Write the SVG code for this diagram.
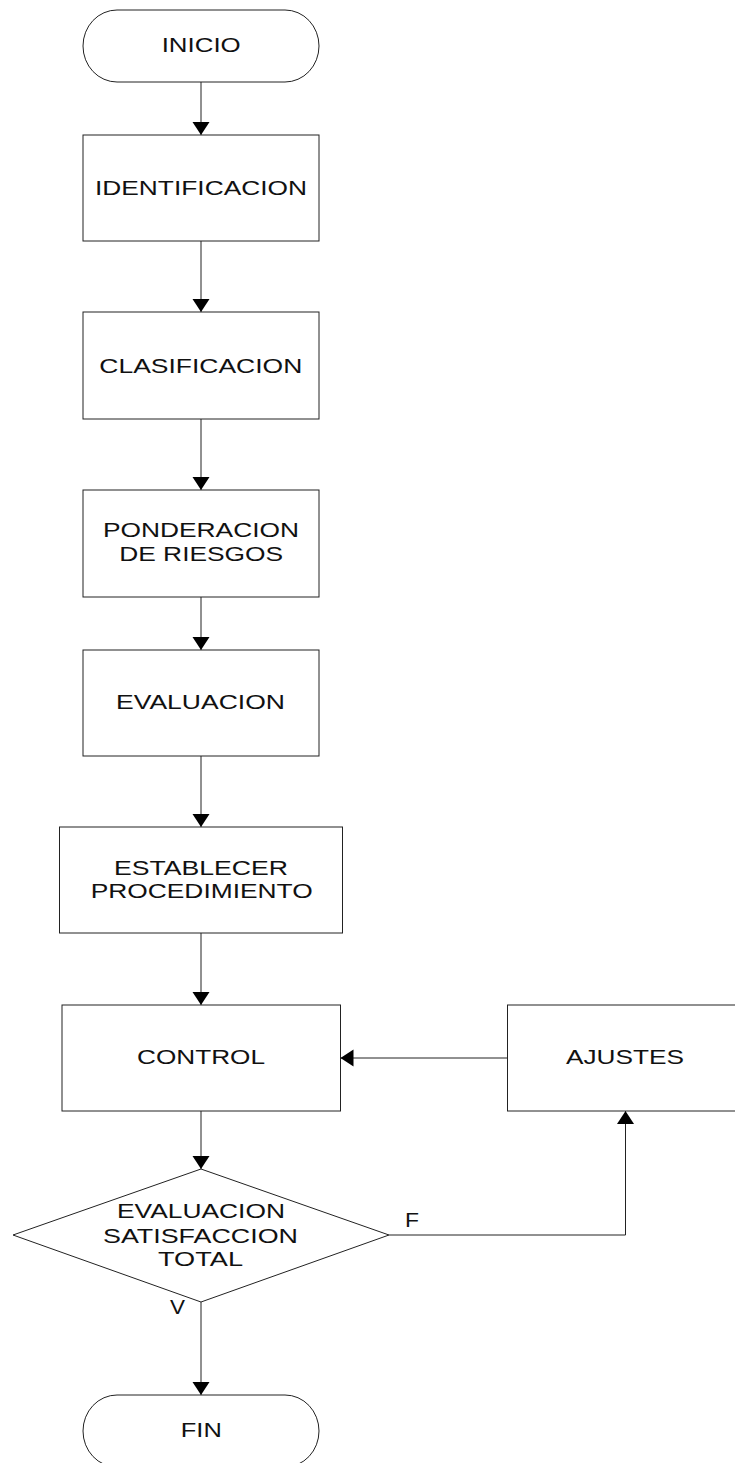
<svg xmlns="http://www.w3.org/2000/svg" width="735" height="1463" viewBox="0 0 735 1463">
<style>
.shape{fill:#fff;stroke:#222;stroke-width:1}
.lbl{font-family:"Liberation Sans",Arial,sans-serif;font-size:21px;fill:#111;text-anchor:middle}
.conn{fill:none;stroke:#222;stroke-width:1}
</style>
<defs>
<marker id="arr" markerUnits="userSpaceOnUse" markerWidth="14" markerHeight="18" refX="13" refY="8.5" orient="auto">
<path d="M0,0 L13,8.5 L0,17 Z" fill="#000"/>
</marker>
</defs>
<rect width="735" height="1463" fill="#fff"/>
<g id="connectors">
<line class="conn" x1="201" y1="82" x2="201" y2="135" marker-end="url(#arr)"/>
<line class="conn" x1="201" y1="241" x2="201" y2="312" marker-end="url(#arr)"/>
<line class="conn" x1="201" y1="419" x2="201" y2="490" marker-end="url(#arr)"/>
<line class="conn" x1="201" y1="597" x2="201" y2="650" marker-end="url(#arr)"/>
<line class="conn" x1="201" y1="756" x2="201" y2="827" marker-end="url(#arr)"/>
<line class="conn" x1="201" y1="933" x2="201" y2="1005" marker-end="url(#arr)"/>
<line class="conn" x1="201" y1="1111" x2="201" y2="1169" marker-end="url(#arr)"/>
<line class="conn" x1="201" y1="1302" x2="201" y2="1395" marker-end="url(#arr)"/>
<polyline class="conn" points="389,1235 625.5,1235 625.5,1111" marker-end="url(#arr)"/>
<line class="conn" x1="507.5" y1="1058" x2="340.5" y2="1058" marker-end="url(#arr)"/>
<text class="lbl" x="412" y="1226.7" textLength="14" lengthAdjust="spacingAndGlyphs">F</text>
<text class="lbl" x="177.5" y="1314" textLength="15" lengthAdjust="spacingAndGlyphs">V</text>
</g>
<g id="inicio">
<rect class="shape" x="83" y="10" width="236" height="72" rx="34" ry="36"/>
<text class="lbl" x="201.2" y="51.7" textLength="79" lengthAdjust="spacingAndGlyphs">INICIO</text>
</g>
<g id="identificacion">
<rect class="shape" x="83" y="135" width="236" height="106"/>
<text class="lbl" x="201" y="195" textLength="212" lengthAdjust="spacingAndGlyphs">IDENTIFICACION</text>
</g>
<g id="clasificacion">
<rect class="shape" x="83" y="312" width="236" height="107"/>
<text class="lbl" x="200.8" y="372.7" textLength="203" lengthAdjust="spacingAndGlyphs">CLASIFICACION</text>
</g>
<g id="ponderacion">
<rect class="shape" x="83" y="490" width="236" height="107"/>
<text class="lbl" x="201" y="536.7" textLength="196" lengthAdjust="spacingAndGlyphs">PONDERACION</text>
<text class="lbl" x="201.2" y="561" textLength="164" lengthAdjust="spacingAndGlyphs">DE RIESGOS</text>
</g>
<g id="evaluacion">
<rect class="shape" x="83" y="650" width="236" height="106"/>
<text class="lbl" x="200.5" y="709.3" textLength="169" lengthAdjust="spacingAndGlyphs">EVALUACION</text>
</g>
<g id="establecer">
<rect class="shape" x="59.5" y="827" width="283" height="106"/>
<text class="lbl" x="201" y="875" textLength="174" lengthAdjust="spacingAndGlyphs">ESTABLECER</text>
<text class="lbl" x="201.7" y="898.3" textLength="222" lengthAdjust="spacingAndGlyphs">PROCEDIMIENTO</text>
</g>
<g id="control">
<rect class="shape" x="62" y="1005" width="278.5" height="106"/>
<text class="lbl" x="201" y="1064" textLength="128" lengthAdjust="spacingAndGlyphs">CONTROL</text>
</g>
<g id="ajustes">
<rect class="shape" x="507.5" y="1005" width="236" height="106"/>
<text class="lbl" x="625" y="1064" textLength="118" lengthAdjust="spacingAndGlyphs">AJUSTES</text>
</g>
<g id="decision">
<polygon class="shape" points="201,1169 389,1235 201,1302 13,1235"/>
<text class="lbl" x="201" y="1218" textLength="168" lengthAdjust="spacingAndGlyphs">EVALUACION</text>
<text class="lbl" x="200.5" y="1243" textLength="195" lengthAdjust="spacingAndGlyphs">SATISFACCION</text>
<text class="lbl" x="200.5" y="1266" textLength="85" lengthAdjust="spacingAndGlyphs">TOTAL</text>
</g>
<g id="fin">
<rect class="shape" x="83" y="1395" width="236" height="72" rx="34" ry="36"/>
<text class="lbl" x="201.3" y="1436.7" textLength="41" lengthAdjust="spacingAndGlyphs">FIN</text>
</g>
</svg>
